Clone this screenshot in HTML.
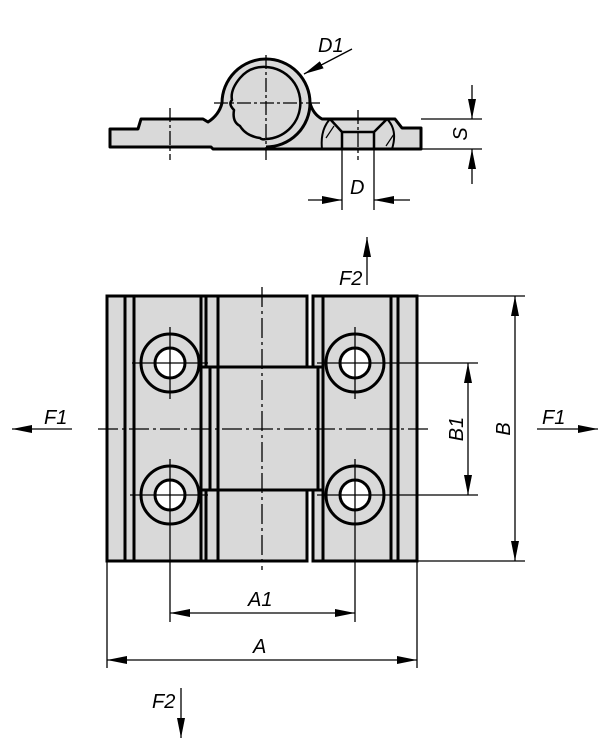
<!DOCTYPE html>
<html><head><meta charset="utf-8"><style>html,body{margin:0;padding:0;background:#fff}svg{display:block}</style></head>
<body>
<svg width="610" height="750" viewBox="0 0 610 750" xmlns="http://www.w3.org/2000/svg" font-family="Liberation Sans, sans-serif" font-style="italic" font-size="20">
<defs>
<marker id="ar" viewBox="0 0 20 8" refX="20" refY="4" markerWidth="20" markerHeight="8" markerUnits="userSpaceOnUse" orient="auto-start-reverse"><path d="M0,0 L20,4 L0,8 Z" fill="#000"/></marker>
</defs>
<!-- TOP VIEW -->
<g stroke="#000" stroke-width="3" fill="#d9d9d9" stroke-linejoin="round">
<path d="M110,129 L138,129 L141,119 L203,119 L208,122 Q219,115 222,103 A44,44 0 0 1 310,103 Q313,114 322,119 L395,119 L402,128 L421,128 L421,149 L213,149 L211,147 L110,147 Z"/>
<path d="M310,103 A44,44 0 0 1 266,147" fill="none"/>
<path d="M266,67 A36,36 0 0 1 300,108 A36,36 0 0 1 266,139" fill="none" stroke-width="2.5"/>
<path d="M266,67 Q250,66 240,78 Q230,90 232,100 Q228,104 234,110 Q232,122 240,126 Q246,136 260,138 Q262,140 266,139" fill="#d9d9d9" stroke-width="2.5"/>
<path d="M330,119 L342,132 L342,149 L374,149 L374,132 L387,119" fill="none" stroke-width="2.5"/>
<line x1="342" y1="132" x2="374" y2="132" stroke-width="2.5"/>
<path d="M330,119 Q320,130 322,149" fill="none" stroke-width="2"/>
<path d="M387,119 Q398,130 392,149" fill="none" stroke-width="2"/>
</g>
<g stroke="#000" stroke-width="1.2" fill="none">
<line x1="326" y1="138" x2="334" y2="126"/><line x1="386" y1="146" x2="394" y2="134"/>
</g>
<g stroke="#000" stroke-width="1.3" fill="none">
<line x1="266" y1="55" x2="266" y2="160" stroke-dasharray="14,3,3,3"/>
<line x1="214" y1="103" x2="320" y2="103" stroke-dasharray="14,3,3,3"/>
<line x1="170" y1="108" x2="170" y2="160" stroke-dasharray="14,3,3,3"/>
<line x1="358" y1="110" x2="358" y2="160" stroke-dasharray="14,3,3,3"/>
<line x1="342" y1="149" x2="342" y2="210"/>
<line x1="374" y1="149" x2="374" y2="210"/>
<line x1="308" y1="200" x2="342" y2="200" marker-end="url(#ar)"/>
<line x1="410" y1="200" x2="374" y2="200" marker-end="url(#ar)"/>
<line x1="421" y1="119" x2="482" y2="119"/>
<line x1="421" y1="149" x2="482" y2="149"/>
<line x1="472" y1="85" x2="472" y2="119" marker-end="url(#ar)"/>
<line x1="472" y1="184" x2="472" y2="149" marker-end="url(#ar)"/>
<line x1="352" y1="49" x2="304" y2="74" marker-end="url(#ar)"/>
</g>
<text x="318" y="52">D1</text>
<text x="350" y="194">D</text>
<text transform="translate(467,134) rotate(-90)" text-anchor="middle">S</text>

<!-- MAIN VIEW -->
<g stroke="#000" stroke-width="3" fill="#d9d9d9">
<rect x="107" y="296" width="200" height="265"/>
<rect x="313" y="296" width="104" height="265"/>
<line x1="125" y1="296" x2="125" y2="561"/>
<line x1="134" y1="296" x2="134" y2="561"/>
<line x1="201" y1="296" x2="201" y2="561"/>
<line x1="206" y1="296" x2="206" y2="367"/>
<line x1="206" y1="490" x2="206" y2="561"/>
<line x1="218" y1="296" x2="218" y2="561"/>
<line x1="323" y1="296" x2="323" y2="561"/>
<line x1="391" y1="296" x2="391" y2="561"/>
<line x1="398" y1="296" x2="398" y2="561"/>
<rect x="201" y="367" width="122" height="123" fill="#d9d9d9"/>
<line x1="210" y1="367" x2="210" y2="490"/>
<line x1="218" y1="367" x2="218" y2="490"/>
<line x1="318" y1="367" x2="318" y2="490"/>
<circle cx="170" cy="363" r="29"/><circle cx="170" cy="363" r="15" fill="#fff"/>
<circle cx="170" cy="495" r="29"/><circle cx="170" cy="495" r="15" fill="#fff"/>
<circle cx="355" cy="363" r="29"/><circle cx="355" cy="363" r="15" fill="#fff"/>
<circle cx="355" cy="495" r="29"/><circle cx="355" cy="495" r="15" fill="#fff"/>
</g>
<g stroke="#000" stroke-width="1.3" fill="none">
<line x1="262" y1="287" x2="262" y2="570" stroke-dasharray="20,4,3,4"/>
<line x1="98" y1="429" x2="428" y2="429" stroke-dasharray="20,4,3,4"/>
<line x1="170" y1="327" x2="170" y2="399"/><line x1="132" y1="363" x2="208" y2="363"/>
<line x1="355" y1="327" x2="355" y2="399"/><line x1="317" y1="363" x2="478" y2="363"/>
<line x1="170" y1="459" x2="170" y2="622"/><line x1="130" y1="495" x2="208" y2="495"/>
<line x1="355" y1="459" x2="355" y2="622"/><line x1="317" y1="495" x2="478" y2="495"/>
<line x1="417" y1="296" x2="525" y2="296"/>
<line x1="417" y1="561" x2="525" y2="561"/>
<line x1="107" y1="561" x2="107" y2="668"/>
<line x1="417" y1="561" x2="417" y2="668"/>
<line x1="468" y1="429" x2="468" y2="363" marker-end="url(#ar)"/>
<line x1="468" y1="429" x2="468" y2="495" marker-end="url(#ar)"/>
<line x1="515" y1="429" x2="515" y2="296" marker-end="url(#ar)"/>
<line x1="515" y1="429" x2="515" y2="561" marker-end="url(#ar)"/>
<line x1="262" y1="613" x2="170" y2="613" marker-end="url(#ar)"/>
<line x1="262" y1="613" x2="355" y2="613" marker-end="url(#ar)"/>
<line x1="262" y1="660" x2="107" y2="660" marker-end="url(#ar)"/>
<line x1="262" y1="660" x2="417" y2="660" marker-end="url(#ar)"/>
<line x1="72" y1="429" x2="12" y2="429" marker-end="url(#ar)"/>
<line x1="537" y1="429" x2="598" y2="429" marker-end="url(#ar)"/>
<line x1="367" y1="285" x2="367" y2="237" marker-end="url(#ar)"/>
<line x1="181" y1="688" x2="181" y2="738" marker-end="url(#ar)"/>
</g>
<text transform="translate(463,429) rotate(-90)" text-anchor="middle">B1</text>
<text transform="translate(510,429) rotate(-90)" text-anchor="middle">B</text>
<text x="248" y="606">A1</text>
<text x="253" y="653">A</text>
<text x="44" y="424">F1</text>
<text x="542" y="424">F1</text>
<text x="339" y="285">F2</text>
<text x="152" y="708">F2</text>
</svg>
</body></html>
